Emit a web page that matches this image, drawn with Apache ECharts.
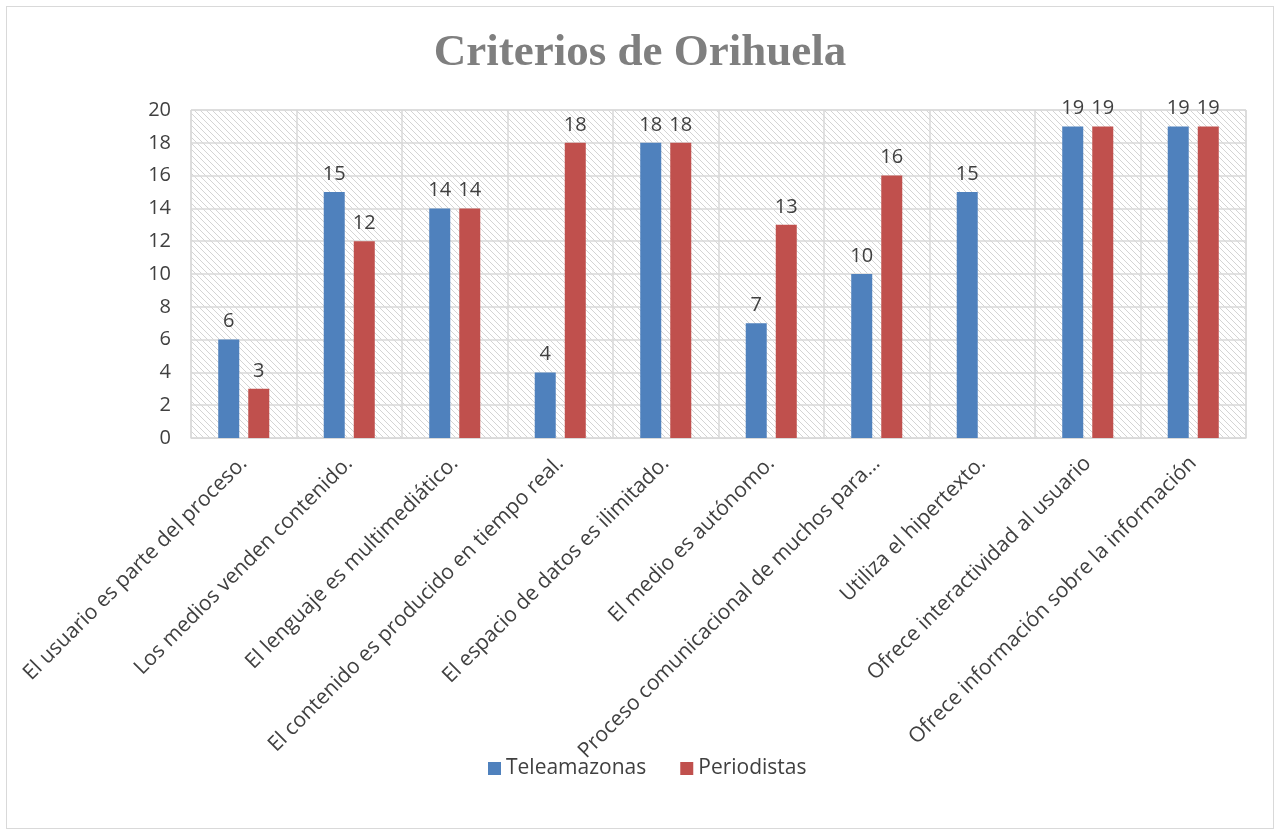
<!DOCTYPE html>
<html>
<head>
<meta charset="utf-8">
<script src="https://cdn.jsdelivr.net/npm/echarts@6/dist/echarts.min.js"></script>
<style>
  html, body { margin: 0; padding: 0; background: #fff; }
  #chart { position: absolute; left: 6px; top: 6px; width: 1268px; height: 823px; border: 1px solid #d9d9d9; box-sizing: border-box; }
</style>
</head>
<body>
<div id="chart"></div>
<script>
const categories = [
  'El usuario es parte del proceso.',
  'Los medios venden contenido.',
  'El lenguaje es multimediático.',
  'El contenido es producido en tiempo real.',
  'El espacio de datos es ilimitado.',
  'El medio es autónomo.',
  'Proceso comunicacional de muchos para...',
  'Utiliza el hipertexto.',
  'Ofrece interactividad al usuario',
  'Ofrece información sobre la información'
];
const teleamazonas = [6, 15, 14, 4, 18, 7, 10, 15, 19, 19];
const periodistas = [3, 12, 14, 18, 18, 13, 16, null, 19, 19];

// diagonal hatch tile for the plot background
function hatch() {
  const c = document.createElement('canvas');
  c.width = 6; c.height = 6;
  const g = c.getContext('2d');
  g.fillStyle = '#ffffff';
  g.fillRect(0, 0, 6, 6);
  g.strokeStyle = '#d4d4d4';
  g.lineWidth = 1;
  g.beginPath();
  g.moveTo(-1, -1); g.lineTo(7, 7);
  g.moveTo(-1, 5); g.lineTo(1, 7);
  g.moveTo(5, -1); g.lineTo(7, 1);
  g.stroke();
  return c;
}

const chart = echarts.init(document.getElementById('chart'));
const labelStyle = { show: true, position: 'top', color: '#404040', fontSize: 20, fontFamily: 'Open Sans', distance: 8 };
chart.setOption({
  title: {
    text: 'Criterios de Orihuela',
    left: 'center',
    top: 19,
    textStyle: { fontFamily: 'Liberation Serif', fontWeight: 'bold', fontSize: 45, color: '#7f7f7f' }
  },
  legend: {
    data: ['Teleamazonas', 'Periodistas'],
    bottom: 44,
    left: 476,
    itemWidth: 13,
    itemHeight: 13,
    itemGap: 34,
    icon: 'rect',
    textStyle: { fontSize: 21, color: '#404040', fontFamily: 'Open Sans' }
  },
  grid: {
    left: 184, right: 27, top: 103, bottom: 390,
    show: true,
    backgroundColor: { image: hatch(), repeat: 'repeat' },
    borderColor: '#d9d9d9',
    borderWidth: 1
  },
  xAxis: {
    type: 'category',
    data: categories,
    axisLine: { lineStyle: { color: '#d9d9d9' } },
    axisTick: { show: false },
    splitLine: { show: true, lineStyle: { color: '#d9d9d9', width: 1.5 } },
    axisLabel: { rotate: 45, interval: 0, color: '#404040', fontSize: 21, fontFamily: 'Open Sans', margin: 22 }
  },
  yAxis: {
    type: 'value',
    min: 0, max: 20, interval: 2,
    axisLine: { show: false },
    axisTick: { show: false },
    splitLine: { lineStyle: { color: '#d9d9d9', width: 1.5 } },
    axisLabel: { color: '#404040', fontSize: 20, fontFamily: 'Open Sans', margin: 20 }
  },
  series: [
    { name: 'Teleamazonas', type: 'bar', data: teleamazonas, barWidth: 21, barGap: '43%',
      itemStyle: { color: '#4f81bd' }, label: labelStyle },
    { name: 'Periodistas', type: 'bar', data: periodistas, barWidth: 21,
      itemStyle: { color: '#c0504d' }, label: labelStyle }
  ]
});
</script>
</body>
</html>
